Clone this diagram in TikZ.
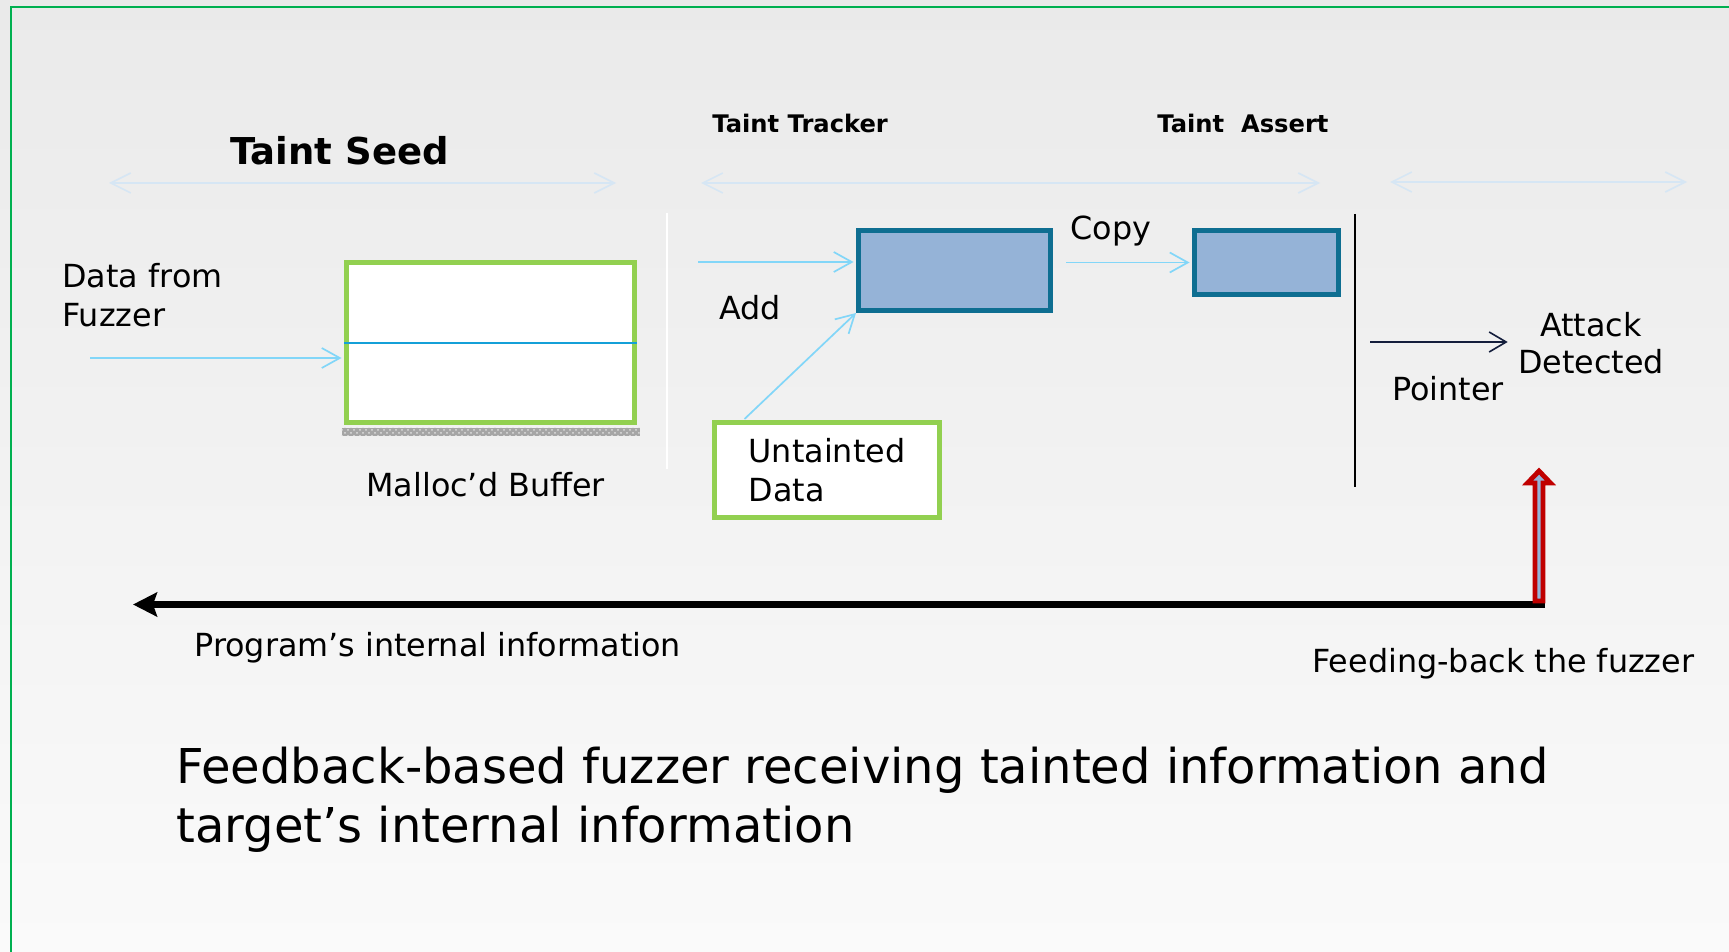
\documentclass[tikz,border=0pt]{standalone}
\usepackage{fontspec}
\setmainfont{DejaVu Sans}
\usetikzlibrary{arrows.meta,calc,patterns}
\definecolor{bgtop}{RGB}{234,234,234}
\definecolor{bgbot}{RGB}{250,250,250}
\definecolor{framegreen}{RGB}{0,176,80}
\definecolor{boxgreen}{RGB}{146,208,80}
\definecolor{trkfill}{RGB}{149,179,215}
\definecolor{trkdraw}{RGB}{14,110,145}
\definecolor{lightarrow}{RGB}{130,214,248}
\definecolor{faintarrow}{RGB}{214,230,244}
\definecolor{seedline}{RGB}{20,160,216}
\definecolor{navyline}{RGB}{20,30,60}
\definecolor{darkred}{RGB}{192,0,0}
\begin{document}
\begin{tikzpicture}[x=0.5pt,y=-0.5pt,
  lbl/.style={inner sep=0pt, font=\fontsize{15.9pt}{19.5pt}\selectfont},
  ttl/.style={inner sep=0pt, font=\fontsize{12.1pt}{14pt}\selectfont\bfseries},
  greenbox/.style={draw=boxgreen, fill=white, line width=2.5pt, inner sep=0pt},
  bluebox/.style={draw=trkdraw, fill=trkfill, line width=2.5pt, inner sep=0pt},
  flow/.style={draw=lightarrow, line width=0.85pt, -{Straight Barb[length=9pt,width=10pt]}},
  faint/.style={draw=faintarrow, line width=0.8pt, {Straight Barb[length=10pt,width=10pt]}-{Straight Barb[length=10pt,width=10pt]}},
  ptr/.style={draw=navyline, line width=0.8pt, -{Straight Barb[length=8.5pt,width=10pt]}},
  feedarrow/.style={draw=black, line width=3.5pt, -{Stealth[length=12pt,width=12pt,inset=2pt]}},
  blockarrow/.style={draw=darkred, fill=trkfill, line width=2.4pt, line join=miter}
]
\useasboundingbox (0,0) rectangle (1729,952);
\shade[top color=bgtop, bottom color=bgbot] (0,0) rectangle (1729,952);
\draw[framegreen, line width=1pt] (11,952) -- (11,7) -- (1729,7);

% faint double arrows
\coordinate (fa1) at (109,183); \coordinate (fa2) at (616,183);
\coordinate (fb1) at (701,183); \coordinate (fb2) at (1320,183);
\coordinate (fc1) at (1390,182); \coordinate (fc2) at (1687,182);
\draw[faint] (fa1) -- (fa2);
\draw[faint] (fb1) -- (fb2);
\draw[faint] (fc1) -- (fc2);

% titles
\node[inner sep=0pt, font=\fontsize{18.5pt}{22pt}\selectfont\bfseries, anchor=base] (seedtitle) at (339.5,165) {Taint Seed};
\node[ttl, anchor=base west] (trktitle) at (712,133) {Taint Tracker};
\node[ttl, anchor=base west] (asttitle) at (1157,133) {Taint\ \ Assert};

% separators
\coordinate (sep1) at (666.5,213); \coordinate (sep2) at (666.5,469);
\draw[white, line width=1pt] (sep1) -- (sep2);
\coordinate (vtop) at (1355,214); \coordinate (vbot) at (1355,487);
\draw[black, line width=1pt] (vtop) -- (vbot);

% seed buffer
\node[greenbox, minimum width=144pt, minimum height=80pt] (seedbox) at (490.5,342.5) {};
\fill[gray!70] ($(seedbox.south west)+(-2.5,2.5)$) rectangle ($(seedbox.south east)+(2.5,10.5)$);
\fill[pattern=crosshatch dots, pattern color=gray!25] ($(seedbox.south west)+(-2.5,2.5)$) rectangle ($(seedbox.south east)+(2.5,10.5)$);
\draw[seedline, line width=1pt] (seedbox.west) -- (seedbox.east);
\node[lbl, anchor=base west, align=left] (fuzzlbl) at (62,326) {Data from\\Fuzzer};
\coordinate (fuzzin) at (90,358);
\draw[flow, shorten >=1.25pt] (fuzzin) -- (fuzzin -| seedbox.west);
\node[lbl, anchor=base west] (malloclbl) at (366,496) {Malloc’d Buffer};

% tracker
\node[bluebox, minimum width=96pt, minimum height=40pt] (tracker) at (954.5,270.5) {};
\node[bluebox, minimum width=72pt, minimum height=32pt] (assert) at (1266.5,262.5) {};
\node[greenbox, minimum width=112.5pt, minimum height=47.5pt, align=left, font=\fontsize{15.9pt}{19.5pt}\selectfont] (untainted) at (827,470) {Untainted\\Data};
\coordinate (trkin) at (698,262);
\draw[flow, shorten >=1.25pt] (trkin) -- (trkin -| tracker.west);
\coordinate (cpyfrom) at (1066,262.5);
\draw[flow, shorten >=1.25pt] (cpyfrom) -- (cpyfrom -| assert.west);
\draw[flow] ($(untainted.north west)+(32.5,-1)$) -- (tracker.south west);
\node[lbl, anchor=base west] (addlbl) at (719,320) {Add};
\node[lbl, anchor=base west] (copylbl) at (1070,240) {Copy};

% assert side
\node[inner sep=0pt, align=center, font=\fontsize{15.9pt}{18.5pt}\selectfont, anchor=base] (attack) at (1591,373) {Attack\\Detected};
\coordinate (ptrfrom) at (1370,342);
\draw[ptr, shorten >=5pt] (ptrfrom) -- (ptrfrom -| attack.west);
\node[lbl, anchor=base west] (ptrlbl) at (1392,400) {Pointer};

% feedback
\coordinate (fbR) at (1545,604.5); \coordinate (fbL) at (133,604.5);
\draw[feedarrow] (fbR) -- (fbL);
\coordinate (redbase) at (1539,601);
\draw[blockarrow] ($(redbase)+(-4,0)$) -- ($(redbase)+(-4,-118)$) -- ($(redbase)+(-11.5,-118)$) -- ($(redbase)+(0,-130)$) -- ($(redbase)+(11.5,-118)$) -- ($(redbase)+(4,-118)$) -- ($(redbase)+(4,0)$) -- cycle;
\node[lbl, anchor=base west] (proglbl) at (194,656) {Program’s internal information};
\node[lbl, anchor=base west] (feedlbl) at (1312,672) {Feeding-back the fuzzer};

% caption
\node[inner sep=0pt, align=left, anchor=base west, font=\fontsize{24pt}{29.5pt}\selectfont] (caption) at (176,842) {Feedback-based fuzzer receiving tainted information and\\target’s internal information};
\end{tikzpicture}
\end{document}
